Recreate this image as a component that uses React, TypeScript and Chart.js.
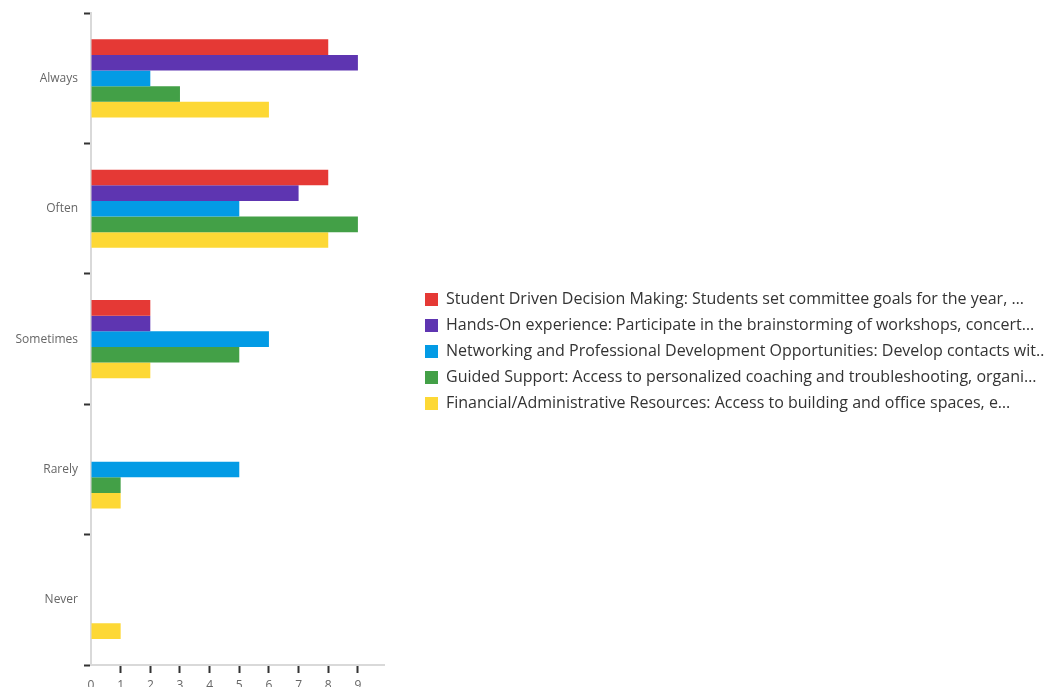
import React, { useEffect, useRef } from "react";
import { Chart, registerables } from "chart.js";

Chart.register(...registerables);

const categories = ["Always", "Often", "Sometimes", "Rarely", "Never"];
const seriesLabels = [
  "Student Driven Decision Making: Students set committee goals for the year, …",
  "Hands-On experience: Participate in the brainstorming of workshops, concert…",
  "Networking and Professional Development Opportunities: Develop contacts wit…",
  "Guided Support: Access to personalized coaching and troubleshooting, organi…",
  "Financial/Administrative Resources: Access to building and office spaces, e…",
];
const studentDriven = [8, 8, 2, 0, 0];
const handsOn = [9, 7, 2, 0, 0];
const networking = [2, 5, 6, 5, 0];
const guidedSupport = [3, 9, 5, 1, 0];
const financial = [6, 8, 2, 1, 1];
const seriesColors = ["#E53935", "#5E35B1", "#039BE5", "#43A047", "#FDD835"];
const xTicks = [0, 1, 2, 3, 4, 5, 6, 7, 8, 9];

const W = 1044;
const H = 700;
const LEGEND_DX = 31;
const LEGEND_DY = -5;

const legendTweak = {
  id: "legendTweak",
  beforeInit(chart: any) {
    const legend = chart.legend;
    if (!legend || legend.__tweaked) return;
    legend.__tweaked = true;
    const origFit = legend.fit;
    legend.fit = function () {
      origFit.call(this);
      this.width = 660;
    };
    const origDraw = legend.draw;
    legend.draw = function () {
      const ctx = this.ctx;
      ctx.save();
      ctx.translate(LEGEND_DX, LEGEND_DY);
      origDraw.call(this);
      ctx.restore();
    };
  },
};

export default function App() {
  const ref = useRef<HTMLCanvasElement>(null);
  useEffect(() => {
    if (!ref.current) return;
    const values = [studentDriven, handsOn, networking, guidedSupport, financial];
    const chart = new Chart(ref.current, {
      type: "bar",
      data: {
        labels: categories,
        datasets: values.map((v, i) => ({
          label: seriesLabels[i],
          data: v,
          backgroundColor: seriesColors[i],
          borderWidth: 0,
          categoryPercentage: 0.6,
          barPercentage: 1.0,
        })),
      },
      plugins: [legendTweak],
      options: {
        indexAxis: "y",
        animation: false,
        responsive: false,
        maintainAspectRatio: false,
        layout: { padding: { top: 13, left: 0, right: 0, bottom: 0 } },
        plugins: {
          tooltip: { enabled: false },
          legend: {
            position: "right",
            align: "center",
            labels: {
              boxWidth: 13,
              boxHeight: 13,
              padding: 10,
              color: "#333333",
              font: { family: "'Open Sans', sans-serif", size: 16 },
            },
          },
        },
        scales: {
          x: {
            min: 0,
            max: 9.88,
            afterBuildTicks: (s: any) => {
              s.ticks = xTicks.map((v) => ({ value: v }));
            },
            afterFit: (s: any) => {
              s.height = H - 665;
            },
            border: { display: true, color: "#d9d9d9", width: 2 },
            grid: {
              display: true,
              drawOnChartArea: false,
              drawTicks: true,
              tickLength: 8,
              tickWidth: 2,
              tickColor: (c: any) => (c.tick && c.tick.value === 0 ? "rgba(0,0,0,0)" : "#333333"),
            },
            ticks: {
              padding: 5,
              color: "#666666",
              font: { family: "'Open Sans', sans-serif", size: 12 },
            },
          },
          y: {
            afterFit: (s: any) => {
              s.width = 91;
            },
            border: { display: true, color: "#d9d9d9", width: 2 },
            grid: {
              display: true,
              offset: true,
              drawOnChartArea: false,
              drawTicks: true,
              tickLength: 7,
              tickWidth: 2,
              tickColor: "#333333",
            },
            ticks: {
              padding: 6,
              color: "#666666",
              font: { family: "'Open Sans', sans-serif", size: 12 },
            },
          },
        },
      },
    });
    return () => chart.destroy();
  }, []);
  return (
    <div style={{ position: "absolute", left: 0, top: 0, width: W, height: H }}>
      <canvas ref={ref} width={W} height={H} style={{ width: W, height: H, display: "block" }} />
    </div>
  );
}
